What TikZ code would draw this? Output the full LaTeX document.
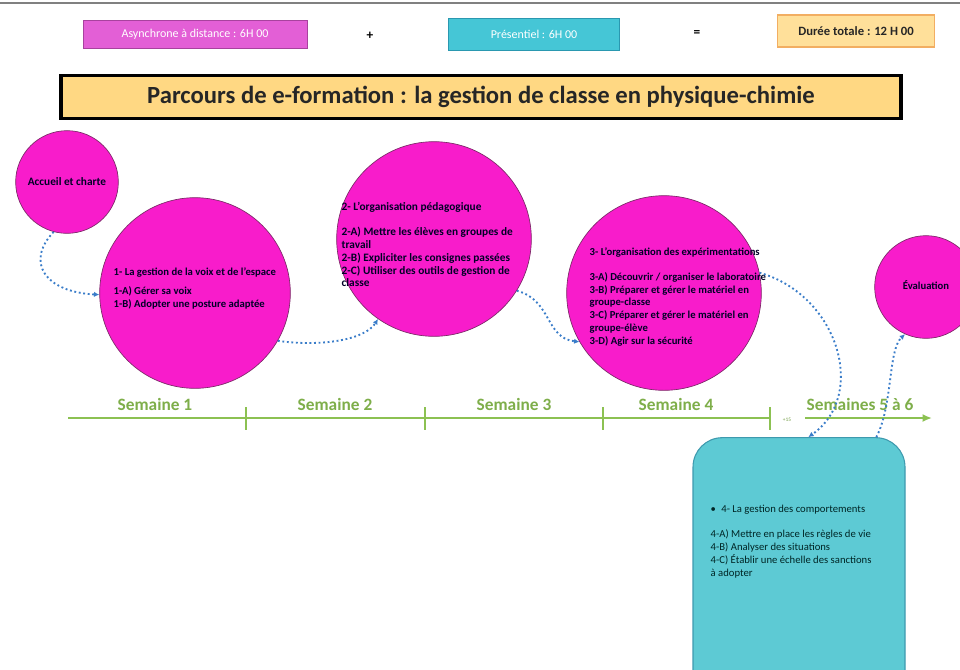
\documentclass[tikz,border=0pt]{standalone}
\usepackage{fontspec}
\setmainfont{Carlito}
\usetikzlibrary{arrows.meta,calc}

\definecolor{bulle}{HTML}{F81CCB}
\definecolor{bullebord}{HTML}{7A2A66}
\definecolor{asyn}{HTML}{E35FD6}
\definecolor{asynbord}{HTML}{A8429E}
\definecolor{pres}{HTML}{45C6D6}
\definecolor{presbord}{HTML}{2A98B0}
\definecolor{duree}{HTML}{FFE09A}
\definecolor{dureebord}{HTML}{F2AE62}
\definecolor{titre}{HTML}{FFD883}
\definecolor{vert}{HTML}{8CC152}
\definecolor{comp}{HTML}{5DCAD4}
\definecolor{compbord}{HTML}{3E9AAE}
\definecolor{fleche}{HTML}{3A7DC9}

\begin{document}
\begin{tikzpicture}[x=0.75pt,y=-0.75pt]
    \tikzstyle{bulle}=[circle,fill=bulle,draw=bullebord,line width=0.5pt,inner sep=0pt]
    \tikzstyle{btxt}=[align=left,font=\fontsize{8}{9.6}\selectfont\bfseries,text=black!85!blue]
    \tikzstyle{haut}=[rectangle,minimum height=21pt,text=white,font=\fontsize{9}{11}\selectfont]
    \tikzstyle{semaine}=[text=vert!90!black,font=\fontsize{13}{15}\selectfont\bfseries]
    \tikzstyle{tick}=[draw=vert,line width=1.3pt]
    \tikzstyle{lien}=[draw=fleche,dotted,line width=1.4pt,-{Latex[length=4pt,width=4pt]}]

    \useasboundingbox (0,0) rectangle (960,669);
    \clip (0,0) rectangle (960,669);
    \draw[gray,line width=1pt] (0,3) -- (960,3);

    % Durations
    \node[haut,fill=asyn,draw=asynbord,minimum width=168pt] (asyn) at (195,34) {Asynchrone à distance : 6H 00};
    \node (plus) at (370,36) {\bfseries +};
    \node[haut,fill=pres,draw=presbord,minimum width=128pt,minimum height=24pt] (pres) at (534,34) {Présentiel : 6H 00};
    \node (egal) at (697,34) {\bfseries =};
    \node[haut,fill=duree,draw=dureebord,line width=0.8pt,minimum width=118pt,minimum height=24pt,text=black!85,font=\fontsize{9.5}{11}\selectfont\bfseries] (total) at (856,31) {Durée totale : 12 H 00};

    % Title
    \node[fill=titre,draw=black,line width=2.5pt,minimum width=630pt,minimum height=32pt,font=\fontsize{18.5}{20}\selectfont\bfseries,text=black!85] (titre) at (481,97) {Parcours de e-formation : la gestion de classe en physique-chimie};

    % Bubbles
    \node[bulle,minimum size=77pt] (c0) at (67,182) {};
    \node[btxt,font=\fontsize{8.5}{10}\selectfont\bfseries] (t0) at (c0) {Accueil et charte};

    \node[bulle,minimum size=143pt] (c1) at (195,293) {};
    \node[btxt,anchor=north west] (t1) at (109,263) {1- La gestion de la voix et de l'espace\\[5pt]
        1-A) Gérer sa voix\\
        1-B) Adopter une posture adaptée};

    \node[bulle,minimum size=146pt] (c2) at (434,239) {};
    \node[btxt,anchor=north west,font=\fontsize{8.5}{9.6}\selectfont\bfseries] (t2) at (337,198) {2- L'organisation pédagogique\\[9pt]
        2-A) Mettre les élèves en groupes de\\
        travail\\
        2-B) Expliciter les consignes passées\\
        2-C) Utiliser des outils de gestion de\\
        classe};

    \node[bulle,minimum size=146pt] (c3) at (664,293) {};
    \node[btxt,anchor=north west] (t3) at (585,243) {3- L'organisation des expérimentations\\[9pt]
        3-A) Découvrir / organiser le laboratoire\\
        3-B) Préparer et gérer le matériel en\\
        groupe-classe\\
        3-C) Préparer et gérer le matériel en\\
        groupe-élève\\
        3-D) Agir sur la sécurité};

    \node[bulle,minimum size=77pt] (ev) at (926,287) {};
    \node[btxt,font=\fontsize{8}{10}\selectfont\bfseries] (tev) at (926,285) {Évaluation};

    % Face to face session
    \node[rectangle,rounded corners=22pt,fill=comp,draw=compbord,line width=0.8pt,minimum width=159pt,minimum height=212pt] (comp) at (799,579) {};
    \node[align=left,anchor=north west,font=\fontsize{8}{9.8}\selectfont,text=black!70!teal] (tc) at (706,500) {\textbullet\enspace 4- La gestion des comportements\\[9pt]
        4-A) Mettre en place les règles de vie\\
        4-B) Analyser des situations\\
        4-C) Établir une échelle des sanctions\\
        à adopter};

    % Timeline
    \coordinate (d0) at (68,418);
    \coordinate (d4) at (770,418);
    \coordinate (d5) at (805,418);
    \coordinate (fin) at (932,418);
    \draw[vert,line width=1.8pt] (d0) -- (d4);
    \draw[vert,line width=1.8pt,-{Latex[length=7pt,width=6pt]}] (d5) -- (fin);
    \foreach \n/\x in {1/246,2/425,3/603,4/770}
        \draw[tick] (\x,407) -- (\x,430);
    \node[text=vert!80!black,font=\fontsize{4}{5}\selectfont] (pt) at (787,420) {+15};

    \foreach \n/\x/\lab in {1/155/Semaine 1,2/335/Semaine 2,3/514/Semaine 3,4/676/Semaine 4,5/860/Semaines 5 à 6}
        \node[semaine] (s-\n) at (\x,404) {\lab};

    % Links between sessions
    \draw[lien] (c0.255) .. controls (25,262) and (45,292) .. (c1.181);
    \draw[lien] (c1.-30) .. controls (320,347) and (365,340) .. (c2.235);
    \draw[lien] (c2.-32) .. controls (552,300) and (545,338) .. (c3.210);
    \draw[lien] (c3.12) .. controls (838,295) and (868,395) .. ([xshift=7pt]comp.north);
    \draw[lien] ([xshift=58pt]comp.north) .. controls (893,405) and (888,350) .. (ev.246);
\end{tikzpicture}
\end{document}
